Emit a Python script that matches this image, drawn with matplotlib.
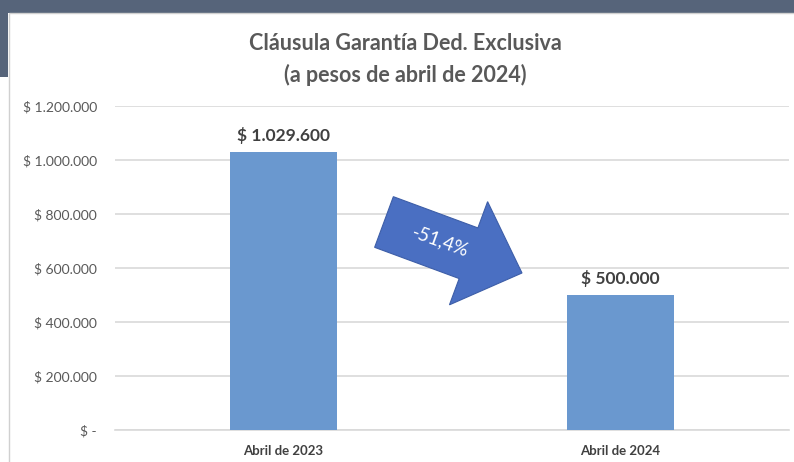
import matplotlib.pyplot as plt
from matplotlib.patches import Rectangle, FancyArrow
from matplotlib.transforms import IdentityTransform

# data
categories = ['Abril de 2023', 'Abril de 2024']
values = [1029600, 500000]
value_labels = ['$ 1.029.600', '$ 500.000']
yticks = [0, 200000, 400000, 600000, 800000, 1000000, 1200000]
ytick_labels = ['$ -', '$ 200.000', '$ 400.000', '$ 600.000', '$ 800.000', '$ 1.000.000', '$ 1.200.000']
change_label = '-51,4%'

plt.rcParams['font.family'] = ['Lato', 'DejaVu Sans']

W, H = 794, 462
fig = plt.figure(figsize=(W / 100, H / 100), dpi=100)
fig.patch.set_facecolor('white')

# dark background band behind the chart card
fig.add_artist(Rectangle((0, 1 - 13 / H), 1, 13 / H, transform=fig.transFigure,
                         facecolor='#56647a', edgecolor='none', zorder=0))
fig.add_artist(Rectangle((0, 1 - 77 / H), 8 / W, 77 / H, transform=fig.transFigure,
                         facecolor='#56647a', edgecolor='none', zorder=0))
fig.add_artist(Rectangle((9 / W, -0.01), 1, 1 - 13 / H + 0.01, transform=fig.transFigure,
                         facecolor='white', edgecolor='#d0d0d0', linewidth=1.0, zorder=0))

ax = fig.add_axes([115 / W, 32 / H, 674 / W, 324 / H])
ax.set_facecolor('none')

x = range(len(categories))
ax.bar(x, values, width=0.315, color='#6a98cf', zorder=3)

for xi, v, lab in zip(x, values, value_labels):
    ax.text(xi, v + 30000, lab, ha='center', va='bottom', fontsize=12.5,
            fontweight='bold', color='#404040')

ax.set_xlim(-0.5, 1.5)
ax.set_ylim(0, 1200000)
ax.set_yticks(yticks)
ax.set_yticklabels(ytick_labels, fontsize=10, color='#595959')
ax.set_xticks(list(x))
ax.set_xticklabels(categories, fontsize=9.5, fontweight='bold', color='#404040')
ax.tick_params(axis='both', length=0)
ax.tick_params(axis='y', pad=13)
ax.tick_params(axis='x', pad=11)
ax.grid(axis='y', color='#d9d9d9', linewidth=1.2, zorder=0)
for s in ['top', 'right', 'left']:
    ax.spines[s].set_visible(False)
ax.spines['bottom'].set_color('#d9d9d9')
ax.spines['bottom'].set_linewidth(1.2)

# title
fig.text(0.51, 1 - 44 / H, 'Cláusula Garantía Ded. Exclusiva', ha='center', va='center',
         fontsize=15.5, fontweight='bold', color='#595959')
fig.text(0.51, 1 - 75 / H, '(a pesos de abril de 2024)', ha='center', va='center',
         fontsize=15.5, fontweight='bold', color='#595959')

# block arrow showing the change
arrow = FancyArrow(384, H - 222, 138, -51, width=54, head_width=110, head_length=57,
                   length_includes_head=True, transform=IdentityTransform(),
                   facecolor='#4a6fc2', edgecolor='#3d5ea8', linewidth=0.8, zorder=5)
fig.add_artist(arrow)
fig.text(440 / W, 1 - 241 / H, change_label, ha='center', va='center', rotation=-20,
         fontsize=13.5, color='white', zorder=6)

fig.savefig('out.png', dpi=100)
